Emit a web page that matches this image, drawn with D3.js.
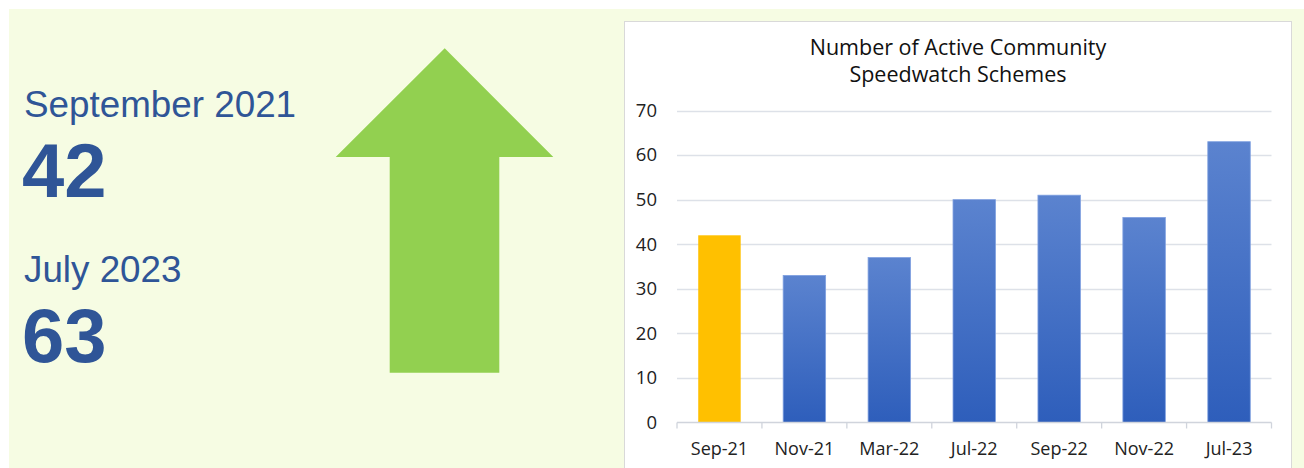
<!DOCTYPE html>
<html>
<head>
<meta charset="utf-8">
<script src="https://cdn.jsdelivr.net/npm/d3@7"></script>
<style>
  body { margin: 0; background: #fff; }
  svg { display: block; }
</style>
</head>
<body>
<div id="box-chart"></div>
<script>
// data
const categories = ['Sep-21', 'Nov-21', 'Mar-22', 'Jul-22', 'Sep-22', 'Nov-22', 'Jul-23'];
const values = [42, 33, 37, 50, 51, 46, 63];
const yTicks = [0, 10, 20, 30, 40, 50, 60, 70];
const titleLines = ['Number of Active Community', 'Speedwatch Schemes'];
const summary = [
  { label: 'September 2021', value: '42' },
  { label: 'July 2023', value: '63' }
];

const width = 1304, height = 468;
const svg = d3.select('#box-chart').append('svg')
  .attr('width', width)
  .attr('height', height);

const defs = svg.append('defs');
const grad = defs.append('linearGradient')
  .attr('id', 'barGrad')
  .attr('x1', 0).attr('y1', 0).attr('x2', 0).attr('y2', 1);
grad.append('stop').attr('offset', '0%').attr('stop-color', '#5b83cf');
grad.append('stop').attr('offset', '100%').attr('stop-color', '#2e5ebb');

// panel
svg.append('rect')
  .attr('x', 9).attr('y', 9)
  .attr('width', width - 9).attr('height', height - 9)
  .attr('fill', '#f6fce3');

// left summary text
const blue = '#2f5597';
summary.forEach((s, i) => {
  const y0 = 117 + i * 165;
  svg.append('text')
    .attr('x', 24).attr('y', y0)
    .attr('font-family', 'Liberation Sans, Arial, sans-serif')
    .attr('font-size', 36.8)
    .attr('fill', blue)
    .text(s.label);
  svg.append('text')
    .attr('x', 22).attr('y', y0 + 80)
    .attr('font-family', 'Liberation Sans, Arial, sans-serif')
    .attr('font-size', 76)
    .attr('font-weight', 'bold')
    .attr('fill', blue)
    .text(s.value);
});

// arrow
svg.append('path')
  .attr('d', 'M444.7,48.3 L553.3,157 L499.3,157 L499.3,372.7 L389.7,372.7 L389.7,157 L335.7,157 Z')
  .attr('fill', '#92d050');

// chart box
svg.append('rect')
  .attr('x', 624.5).attr('y', 21.5)
  .attr('width', 667).attr('height', 470)
  .attr('fill', '#fff')
  .attr('stroke', '#d9d9d9');

const titleFont = 'Open Sans, Lato, sans-serif';
svg.append('text')
  .attr('x', 958).attr('y', 55)
  .attr('text-anchor', 'middle')
  .attr('font-family', titleFont)
  .attr('font-size', 21.5)
  .attr('fill', '#111')
  .selectAll('tspan')
  .data(titleLines)
  .enter().append('tspan')
  .attr('x', 958)
  .attr('dy', (d, i) => i === 0 ? 0 : 27)
  .text(d => d);

const margin = { left: 677, right: 1271.5, top: 110.5, bottom: 422.5 };

const x_scale = d3.scaleBand()
  .domain(categories)
  .range([margin.left, margin.right])
  .paddingInner(0.5)
  .paddingOuter(0.25);
const y_scale = d3.scaleLinear()
  .domain([0, 70])
  .range([margin.bottom, margin.top]);

// gridlines
svg.append('g')
  .selectAll('line')
  .data(yTicks.slice(1))
  .enter().append('line')
  .attr('x1', margin.left).attr('x2', margin.right)
  .attr('y1', d => Math.round(y_scale(d)) + 0.5)
  .attr('y2', d => Math.round(y_scale(d)) + 0.5)
  .attr('stroke', '#dde1e8')
  .attr('stroke-width', 1.3);

// y labels
const yAxis = svg.append('g')
  .attr('transform', 'translate(' + (margin.left - 9) + ',0)')
  .call(d3.axisLeft(y_scale).tickValues(yTicks).tickSize(0).tickPadding(11));
yAxis.select('.domain').remove();
yAxis.selectAll('text')
  .attr('font-family', titleFont)
  .attr('font-size', 18.5)
  .attr('fill', '#222');

// bars
svg.append('g')
  .selectAll('rect')
  .data(values)
  .enter().append('rect')
  .attr('x', (d, i) => x_scale(categories[i]))
  .attr('y', d => y_scale(d))
  .attr('width', x_scale.bandwidth())
  .attr('height', d => y_scale(0) - y_scale(d))
  .attr('fill', (d, i) => i === 0 ? '#ffc000' : 'url(#barGrad)')
  .attr('stroke', (d, i) => i === 0 ? 'none' : '#7fa0e0')
  .attr('stroke-width', 0.8);

// x axis
const step = x_scale.step();
const xAxis = svg.append('g')
  .attr('transform', 'translate(0,' + margin.bottom + ')');
xAxis.append('line')
  .attr('x1', margin.left).attr('x2', margin.right)
  .attr('stroke', '#d0d4dc').attr('stroke-width', 1.3);
xAxis.selectAll('.tk')
  .data(d3.range(categories.length + 1))
  .enter().append('line')
  .attr('class', 'tk')
  .attr('x1', i => margin.left + i * step)
  .attr('x2', i => margin.left + i * step)
  .attr('y1', 0).attr('y2', 6)
  .attr('stroke', '#d0d4dc').attr('stroke-width', 1.3);
xAxis.selectAll('.lbl')
  .data(categories)
  .enter().append('text')
  .attr('class', 'lbl')
  .attr('x', d => x_scale(d) + x_scale.bandwidth() / 2)
  .attr('y', 32)
  .attr('text-anchor', 'middle')
  .attr('font-family', titleFont)
  .attr('font-size', 18)
  .attr('fill', '#222')
  .text(d => d);
</script>
</body>
</html>
